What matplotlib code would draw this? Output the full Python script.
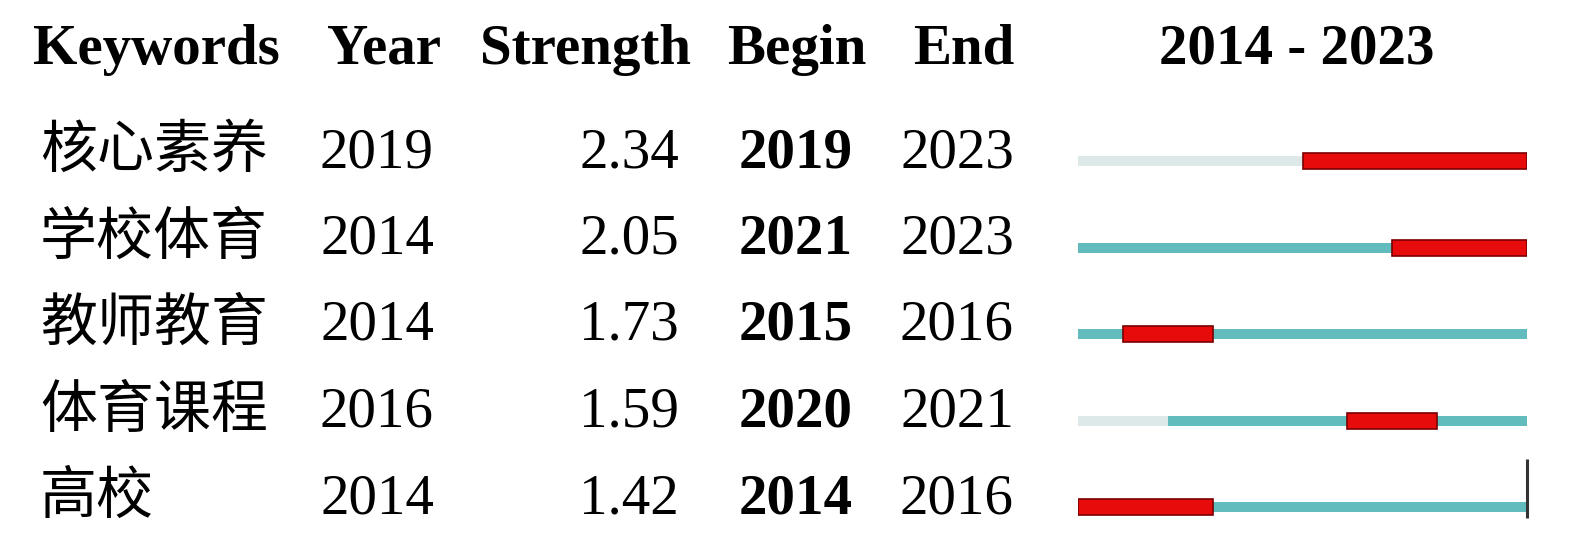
import matplotlib
matplotlib.use("Agg")
import matplotlib.pyplot as plt

# ------------------------------------------------------------------
# data
# ------------------------------------------------------------------
keywords = ["核心素养", "学校体育", "教师教育", "体育课程", "高校"]
first_year = [2019, 2014, 2014, 2016, 2014]
strength = [2.34, 2.05, 1.73, 1.59, 1.42]
begin = [2019, 2021, 2015, 2020, 2014]
end = [2023, 2023, 2016, 2021, 2016]
span_start, span_end = 2014, 2023

headers = ["Keywords", "Year", "Strength", "Begin", "End"]

FAINT = "#dde9e9"
TEAL = "#62bcbd"
RED = "#e80b0b"
EDGE = "#7a0000"
FONT = ["Liberation Serif", "Noto Sans CJK SC"]
FS = 41

W, H = 1575, 549
fig = plt.figure(figsize=(W / 100, H / 100), dpi=100)

# text layer in pixel coordinates
ax = fig.add_axes([0, 0, 1, 1])
ax.set_xlim(0, W)
ax.set_ylim(H, 0)
ax.axis("off")

row_y0, row_step = 161, 86.5
head_base = 64
text_off = 6  # baseline sits a little below bar centre

hd = dict(va="baseline", fontsize=FS, family=FONT, fontweight="bold")
ax.text(33, head_base, headers[0], ha="left", **hd)
ax.text(384, head_base, headers[1], ha="center", **hd)
ax.text(691, head_base, headers[2], ha="right", **hd)
ax.text(797, head_base, headers[3], ha="center", **hd)
ax.text(964, head_base, headers[4], ha="center", **hd)
ax.text(1297, head_base, f"{span_start} - {span_end}", ha="center", **hd)

for i in range(len(keywords)):
    y = row_y0 + i * row_step + text_off
    ax.text(40, y, keywords[i], ha="left", va="baseline", fontsize=FS,
            family=["Noto Sans CJK SC"], fontweight="light")
    ax.text(377, y, str(first_year[i]), ha="center", va="baseline", fontsize=FS, family=FONT)
    ax.text(679, y, f"{strength[i]:.2f}", ha="right", va="baseline", fontsize=FS, family=FONT)
    ax.text(796, y, str(begin[i]), ha="center", va="baseline", fontsize=FS,
            family=FONT, fontweight="bold")
    ax.text(957, y, str(end[i]), ha="center", va="baseline", fontsize=FS, family=FONT)

# timeline layer: x in years, y in pixels
x0, x1 = 1078, 1527
axb = fig.add_axes([x0 / W, 0, (x1 - x0) / W, 1])
axb.set_xlim(span_start, span_end + 1)
axb.set_ylim(H, 0)
axb.axis("off")

for i in range(len(keywords)):
    y = row_y0 + i * row_step
    if first_year[i] > span_start:
        axb.barh(y, first_year[i] - span_start, left=span_start, height=10,
                 color=FAINT, linewidth=0)
    axb.barh(y, span_end + 1 - first_year[i], left=first_year[i], height=10,
             color=TEAL, linewidth=0)
    axb.barh(y, end[i] + 1 - begin[i], left=begin[i], height=16,
             color=RED, edgecolor=EDGE, linewidth=1.2)

last_y = row_y0 + (len(keywords) - 1) * row_step
axb.plot([span_end + 1, span_end + 1], [last_y - 48, last_y + 11], color="#333333",
         linewidth=2.2, solid_capstyle="butt", clip_on=False)

fig.savefig("out.png", dpi=100)
